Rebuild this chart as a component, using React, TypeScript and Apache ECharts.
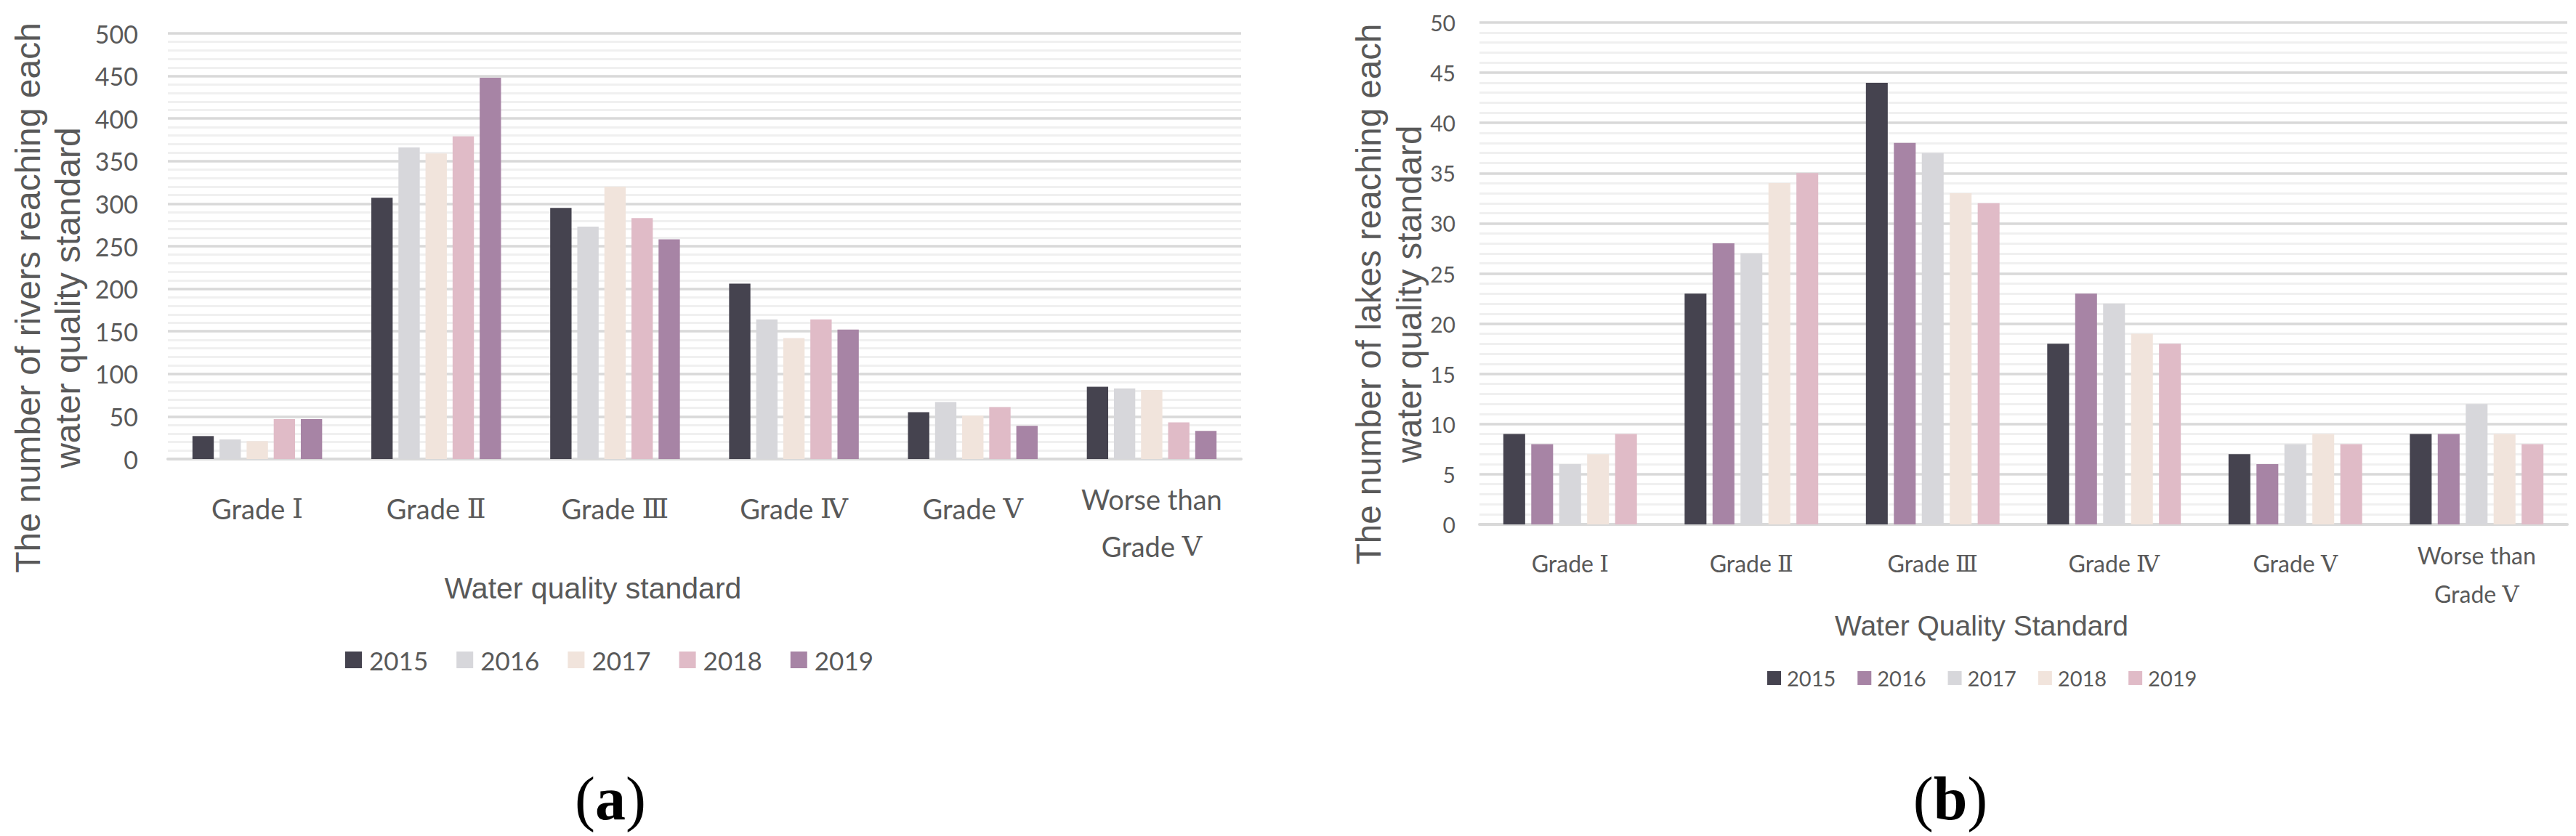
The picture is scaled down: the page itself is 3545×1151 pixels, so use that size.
import React, { useEffect, useRef } from "react";
import * as echarts from "echarts";

const categories = ["Grade Ⅰ", "Grade Ⅱ", "Grade Ⅲ", "Grade Ⅳ", "Grade Ⅴ", "Worse than\nGrade Ⅴ"];
const years = ["2015", "2016", "2017", "2018", "2019"];

// (a) rivers
const rivers2015 = [27, 307, 295, 206, 55, 85];
const rivers2016 = [23, 366, 273, 164, 67, 83];
const rivers2017 = [21, 359, 320, 142, 51, 81];
const rivers2018 = [47, 379, 283, 164, 61, 43];
const rivers2019 = [47, 448, 258, 152, 39, 33];
const riversByYear = [rivers2015, rivers2016, rivers2017, rivers2018, rivers2019];

// (b) lakes
const lakes2015 = [9, 23, 44, 18, 7, 9];
const lakes2016 = [8, 28, 38, 23, 6, 9];
const lakes2017 = [6, 27, 37, 22, 8, 12];
const lakes2018 = [7, 34, 33, 19, 9, 9];
const lakes2019 = [9, 35, 32, 18, 8, 8];
const lakesByYear = [lakes2015, lakes2016, lakes2017, lakes2018, lakes2019];

const colorsA = ["#45434f", "#d7d7db", "#f1e4dc", "#e0bbc7", "#a784a5"];
const colorsB = ["#45434f", "#a784a5", "#d7d7db", "#f1e4dc", "#e0bbc7"];

const BASE_FONT = "Lato, 'Noto Sans CJK SC', sans-serif";
const NUMERAL_FONT = "'DejaVu Serif', serif";
const TITLE_FONT = "'Liberation Sans', Arial, sans-serif";
const SERIF = "'Liberation Serif', 'Times New Roman', serif";
const GREY = "#595959";

function catData(fontSize: number, single: number, double: number) {
  return categories.map((c) => {
    const lh = c.indexOf("\n") >= 0 ? double : single;
    return {
      value: c,
      textStyle: {
        lineHeight: lh,
        rich: { r: { fontFamily: NUMERAL_FONT, fontSize, color: GREY, lineHeight: lh } },
      },
    };
  });
}

const numeralFormatter = (v: string) => v.replace(/([ⅠⅡⅢⅣⅤ])/g, "{r|$1}");

export default function App() {
  const ref = useRef<HTMLDivElement>(null);
  useEffect(() => {
    if (!ref.current) return;
    const chart = echarts.init(ref.current, null, { renderer: "svg" });
    const xAxisCommon = (fontSize: number, margin: number) => ({
      type: "category" as const,
      axisLine: { show: true, lineStyle: { color: "#d9d9d9", width: 4 } },
      axisTick: { show: false },
      axisLabel: {
        interval: 0,
        margin,
        fontSize,
        color: GREY,
        fontFamily: BASE_FONT,
        hideOverlap: false,
        formatter: numeralFormatter,
        rich: { r: { fontFamily: NUMERAL_FONT, fontSize, color: GREY } },
      },
      splitLine: { show: false },
    });
    const yAxisCommon = (max: number, interval: number, fontSize: number, margin: number) => ({
      type: "value" as const,
      min: 0,
      max,
      interval,
      axisLine: { show: false },
      axisTick: { show: false },
      axisLabel: { margin, fontSize, color: GREY, fontFamily: BASE_FONT },
      splitLine: { show: true, lineStyle: { color: "#d9d9d9", width: 3.5 } },
      minorTick: { show: false, splitNumber: 5 },
      minorSplitLine: { show: true, lineStyle: { color: "#f0f0f0", width: 3 } },
    });
    const option: any = {
      animation: false,
      backgroundColor: "#ffffff",
      grid: [
        { left: 231, top: 46, width: 1477, height: 586, outerBoundsMode: "none", containLabel: false },
        { left: 2036, top: 31, width: 1497, height: 691, outerBoundsMode: "none", containLabel: false },
      ],
      xAxis: [
        { ...xAxisCommon(38, 22), gridIndex: 0, data: catData(38, 91, 65) },
        { ...xAxisCommon(32, 16), gridIndex: 1, data: catData(32, 75, 53) },
      ],
      yAxis: [
        { ...yAxisCommon(500, 50, 34, 41), gridIndex: 0 },
        { ...yAxisCommon(50, 5, 30, 33), gridIndex: 1 },
      ],
      legend: [
        {
          left: 470,
          top: 886,
          icon: "rect",
          itemWidth: 23,
          itemHeight: 23,
          itemGap: 39,
          selectedMode: false,
          data: years.map((y, i) => ({ name: y, itemStyle: { color: colorsA[i] } })),
          textStyle: { fontSize: 35, color: GREY, fontFamily: BASE_FONT, padding: [0, 0, 0, 5] },
        },
        {
          left: 2427,
          top: 914,
          icon: "rect",
          itemWidth: 19,
          itemHeight: 19,
          itemGap: 30,
          selectedMode: false,
          data: years.map((y, i) => ({ name: y, itemStyle: { color: colorsB[i] } })),
          textStyle: { fontSize: 29, color: GREY, fontFamily: BASE_FONT, padding: [0, 0, 0, 3] },
        },
      ],
      series: [
        ...years.map((y, i) => ({
          type: "bar",
          name: y,
          xAxisIndex: 0,
          yAxisIndex: 0,
          data: riversByYear[i],
          itemStyle: { color: colorsA[i] },
          barGap: "27%",
          barCategoryGap: "27.5%",
        })),
        ...years.map((y, i) => ({
          type: "bar",
          name: y,
          xAxisIndex: 1,
          yAxisIndex: 1,
          data: lakesByYear[i],
          itemStyle: { color: colorsB[i] },
          barGap: "28%",
          barCategoryGap: "26.3%",
        })),
      ],
      graphic: [
        {
          type: "text",
          x: 66,
          y: 410,
          rotation: Math.PI / 2,
          style: {
            text: "The number of rivers reaching each\nwater quality standard",
            fontSize: 48,
            lineHeight: 55,
            fontFamily: TITLE_FONT,
            fill: GREY,
            align: "center",
            verticalAlign: "middle",
          },
        },
        {
          type: "text",
          x: 1911,
          y: 405,
          rotation: Math.PI / 2,
          style: {
            text: "The number of lakes reaching each\nwater quality standard",
            fontSize: 47.5,
            lineHeight: 56,
            fontFamily: TITLE_FONT,
            fill: GREY,
            align: "center",
            verticalAlign: "middle",
          },
        },
        {
          type: "text",
          x: 816,
          y: 810,
          style: {
            text: "Water quality standard",
            fontSize: 41,
            fontFamily: TITLE_FONT,
            fill: GREY,
            align: "center",
            verticalAlign: "middle",
          },
        },
        {
          type: "text",
          x: 2727,
          y: 861,
          style: {
            text: "Water Quality Standard",
            fontSize: 39,
            fontFamily: TITLE_FONT,
            fill: GREY,
            align: "center",
            verticalAlign: "middle",
          },
        },
        {
          type: "text",
          x: 840,
          y: 1099,
          style: {
            text: "({b|a})",
            fontSize: 84,
            fontFamily: SERIF,
            fill: "#000000",
            align: "center",
            verticalAlign: "middle",
            rich: { b: { fontSize: 84, fontFamily: SERIF, fontWeight: "bold", fill: "#000000" } },
          },
        },
        {
          type: "text",
          x: 2684,
          y: 1099,
          style: {
            text: "({b|b})",
            fontSize: 84,
            fontFamily: SERIF,
            fill: "#000000",
            align: "center",
            verticalAlign: "middle",
            rich: { b: { fontSize: 84, fontFamily: SERIF, fontWeight: "bold", fill: "#000000" } },
          },
        },
      ],
    };
    chart.setOption(option);
    return () => chart.dispose();
  }, []);
  return (
    <div
      ref={ref}
      style={{ position: "fixed", left: 0, top: 0, width: "3545px", height: "1151px", background: "#fff" }}
    />
  );
}
